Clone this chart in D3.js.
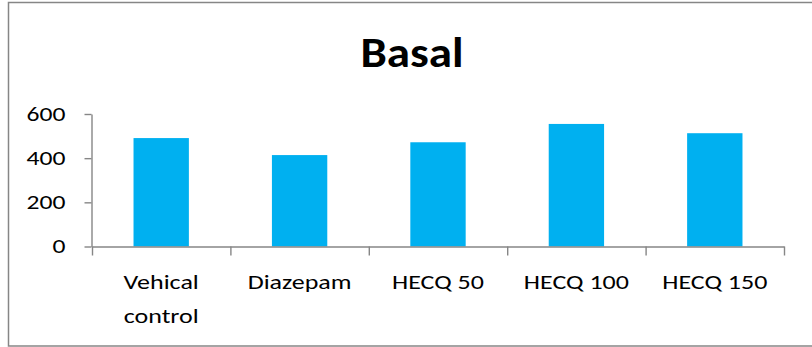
<!DOCTYPE html>
<html>
<head>
<meta charset="utf-8">
<script src="https://cdn.jsdelivr.net/npm/d3@7"></script>
<style>
  body { margin: 0; background: #fff; }
  text { font-family: Carlito, Lato, "Open Sans", sans-serif; }
</style>
</head>
<body>
<svg id="chart" width="812" height="347"></svg>
<script>
  var categories = ['Vehical control', 'Diazepam', 'HECQ 50', 'HECQ 100', 'HECQ 150'];
  var values = [491, 414, 472, 555, 513];
  var yTicks = [0, 200, 400, 600];

  var svg = d3.select('#chart');
  var sx = 1.3; // the reference text is wider than Lato, stretch it

  // chart frame
  svg.append('rect')
    .attr('x', 8.5)
    .attr('y', 2.5)
    .attr('width', 820)
    .attr('height', 343.5)
    .attr('fill', 'white')
    .attr('stroke', '#868686')
    .attr('stroke-width', 1.5);

  svg.append('text')
    .attr('transform', 'translate(412,67) scale(1.12,1)')
    .attr('text-anchor', 'middle')
    .attr('font-size', '42px')
    .attr('font-weight', 'bold')
    .attr('fill', 'black')
    .text('Basal');

  var x = d3.scaleBand()
    .domain(categories)
    .range([92, 784])
    .paddingInner(0.6)
    .paddingOuter(0.3);

  var y = d3.scaleLinear()
    .domain([0, 600])
    .range([246.5, 114]);

  // bars
  svg.append('g').selectAll('rect')
    .data(values)
    .enter()
    .append('rect')
    .attr('x', (d, i) => x(categories[i]))
    .attr('y', d => y(d))
    .attr('width', x.bandwidth())
    .attr('height', d => y(0) - y(d))
    .attr('fill', '#00B0F0');

  // y axis
  var yAxis = svg.append('g')
    .attr('transform', 'translate(91.5,0)')
    .call(d3.axisLeft(y).tickValues(yTicks).tickSize(7).tickSizeOuter(0).tickPadding(19));
  yAxis.selectAll('text')
    .attr('font-size', '20px')
    .attr('fill', 'black')
    .attr('font-family', 'Carlito, Lato, sans-serif')
    .attr('x', -26 / 1.28)
    .attr('transform', 'scale(1.28,1)');

  // x axis: ticks on category boundaries
  var edges = d3.scaleLinear().domain([0, categories.length]).range([92, 784]);
  svg.append('g')
    .attr('transform', 'translate(0,246.5)')
    .call(d3.axisBottom(edges).tickValues(d3.range(categories.length + 1)).tickFormat('').tickSize(9).tickSizeOuter(0));

  svg.selectAll('.domain, .tick line').attr('stroke', '#868686').attr('stroke-width', 1.4);

  // category labels
  svg.append('g').selectAll('text')
    .data(categories)
    .enter()
    .append('text')
    .attr('font-size', '20px')
    .attr('fill', 'black')
    .attr('text-anchor', 'middle')
    .attr('transform', d => 'translate(' + (x(d) + x.bandwidth() / 2) + ',289) scale(' + sx + ',1)')
    .each(function(d) {
      var words = d === 'Vehical control' ? ['Vehical', 'control'] : [d];
      var t = d3.select(this);
      words.forEach(function(w, j) {
        t.append('tspan')
          .attr('x', 0)
          .attr('y', j * 34)
          .text(w);
      });
    });
</script>
</body>
</html>
